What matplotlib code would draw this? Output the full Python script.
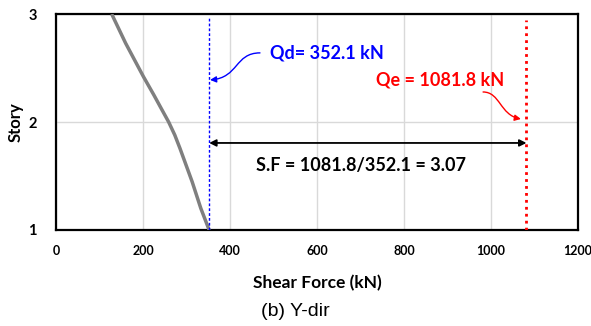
import matplotlib
matplotlib.use("Agg")
import matplotlib.pyplot as plt
from matplotlib.path import Path
from matplotlib.patches import FancyArrowPatch

# Data
story = [3.0, 2.73, 2.42, 2.25, 2.11, 2.0, 1.88, 1.756, 1.447, 1.2, 1.0]
shear = [128, 160, 201, 225, 244, 259, 273, 285, 313, 333, 352.1]
Qd = 352.1
Qe = 1081.8
xticks = [0, 200, 400, 600, 800, 1000, 1200]
yticks = [1, 2, 3]

plt.rcParams['font.family'] = ['Lato', 'DejaVu Sans']

fig = plt.figure(figsize=(5.91, 3.26), dpi=100)
ax = fig.add_axes([0.0948, 0.2945, 0.883, 0.6625])

ax.plot(shear, story, color='#7f7f7f', lw=2.5, solid_capstyle='butt',
        solid_joinstyle='round', zorder=3)
ax.plot([Qd, Qd], [1, 2.97], color='blue', lw=1, ls=(0, (2, 1.5)), zorder=4)
ax.plot([Qe, Qe], [1, 2.94], color='red', lw=2, ls=(0, (1, 1.5)), zorder=4)

ax.set_xlim(0, 1200)
ax.set_ylim(1, 3)
ax.set_xticks(xticks)
ax.set_yticks(yticks)
ax.tick_params(axis='x', length=0, pad=11)
ax.tick_params(axis='y', length=0, pad=14)
for lab in ax.get_xticklabels():
    lab.set_fontsize(9); lab.set_fontweight('bold')
for lab in ax.get_yticklabels():
    lab.set_fontsize(10.5); lab.set_fontweight('bold')
ax.grid(True, color='#d9d9d9', lw=1)
ax.set_axisbelow(True)
for s in ax.spines.values():
    s.set_linewidth(1.6)
    s.set_color('black')

ax.set_xlabel('Shear Force (kN)', fontsize=12.5, fontweight='bold')
ax.xaxis.set_label_coords(0.5, -0.245)
ax.xaxis.label.set_va('center')
ax.set_ylabel('Story', fontsize=12, fontweight='bold')
ax.yaxis.set_label_coords(-0.0766, 0.5)
ax.yaxis.label.set_va('center')

# Annotations
p1 = Path([(469, 2.64), (411, 2.64), (420, 2.41), (Qd + 2, 2.39)],
          [Path.MOVETO, Path.CURVE4, Path.CURVE4, Path.CURVE4])
ax.add_patch(FancyArrowPatch(path=p1, arrowstyle='-|>', color='blue', lw=1,
                             mutation_scale=9, transform=ax.transData, zorder=5))
ax.text(492, 2.64, 'Qd= 352.1 kN', color='blue', fontsize=13, fontweight='bold',
        va='center', ha='left')
ax.text(736, 2.39, 'Qe = 1081.8 kN', color='red', fontsize=13, fontweight='bold',
        va='center', ha='left')
p2 = Path([(982, 2.278), (1021, 2.278), (1021, 2.065), (1069, 2.028)],
          [Path.MOVETO, Path.CURVE4, Path.CURVE4, Path.CURVE4])
ax.add_patch(FancyArrowPatch(path=p2, arrowstyle='-|>', color='red', lw=1,
                             mutation_scale=9, transform=ax.transData, zorder=5))
ax.annotate('', xy=(Qd, 1.806), xytext=(Qe, 1.806),
            arrowprops=dict(arrowstyle='<|-|>', color='black', lw=1.3,
                            mutation_scale=10, shrinkA=0, shrinkB=0))
ax.text(701, 1.60, 'S.F = 1081.8/352.1 = 3.07', color='black', fontsize=13,
        fontweight='bold', ha='center', va='center')

fig.text(0.5, 0.046, '(b) Y-dir', fontsize=14, ha='center', va='center',
         family='Liberation Sans')

fig.savefig('out.png', dpi=100)
